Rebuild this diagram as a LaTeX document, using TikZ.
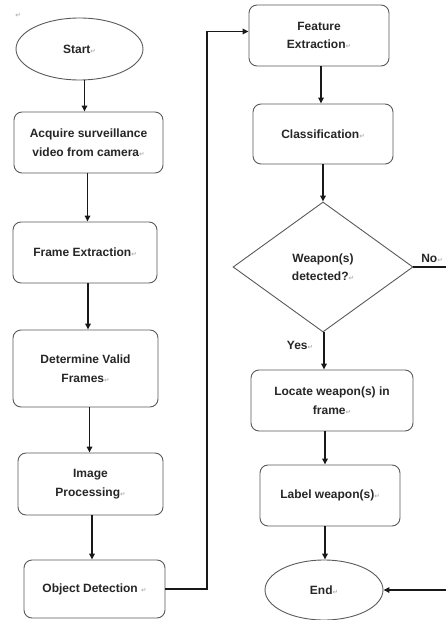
\documentclass[tikz,border=0pt]{standalone}
\usepackage{fontspec}
\setmainfont{Liberation Sans}
\newfontfamily\dejavu{DejaVu Sans}
\usetikzlibrary{shapes.geometric,arrows.meta}
% faint paragraph mark that follows each label
\newcommand\parmark{{\dejavu\fontsize{6.5}{6.5}\selectfont\color{black!30}\char"21B5}}
\tikzset{
  every node/.style={font=\bfseries\fontsize{12}{18.5}\selectfont, text=black!85, align=center},
  procbox/.style={draw=black!65, line width=0.9pt, rounded corners=8pt, inner sep=0pt},
  termbox/.style={draw=black!65, line width=0.9pt, ellipse, inner sep=0pt},
  decbox/.style={draw=black!65, line width=0.9pt, diamond, inner sep=0pt},
  arr/.style={line width=1.5pt, draw=black!90, -{Triangle[length=6pt,width=5.5pt]}},
  link/.style={line width=1.5pt, draw=black!90},
}
\begin{document}
\begin{tikzpicture}[x=1pt,y=-1pt]
\useasboundingbox (0,0) rectangle (446,620);

% left column
\node at (18,15) {\parmark};
\node[termbox, minimum width=127, minimum height=62] (start) at (79.5,49) {Start\parmark};
\node[procbox, minimum width=149, minimum height=61] (acquire) at (88.5,142.5)
  {Acquire surveillance\\video from camera\parmark};
\node[procbox, minimum width=144, minimum height=61] (frame) at (85,252.5) {Frame Extraction\parmark};
\node[procbox, minimum width=145, minimum height=77] (valid) at (85.5,368.5)
  {Determine Valid\\Frames\parmark};
\node[procbox, minimum width=145, minimum height=62] (image) at (90.5,484)
  {Image\\Processing\parmark};
\node[procbox, minimum width=141, minimum height=58] (object) at (94.5,589)
  {Object Detection\ \parmark};

% right column
\node[procbox, minimum width=140, minimum height=61] (feature) at (319,35.5)
  {Feature\\Extraction\parmark};
\node[procbox, minimum width=140, minimum height=60] (class) at (323,134) {Classification\parmark};
\node[decbox, minimum width=180, minimum height=130] (dec) at (323,267)
  {Weapon(s)\\detected?\parmark};
\node[procbox, minimum width=162, minimum height=61] (locate) at (332,400.5)
  {Locate weapon(s) in\\frame\parmark};
\node[procbox, minimum width=140, minimum height=61] (label) at (330,495.5) {Label weapon(s)\parmark};
\node[termbox, minimum width=118, minimum height=60] (end) at (324,590) {End\parmark};

% connectors, left column
\draw[arr] ([xshift=5]start.south) -- ([xshift=5]start.south |- acquire.north);
\draw[arr] ([xshift=-1]acquire.south) -- ([xshift=-1]acquire.south |- frame.north);
\draw[arr] ([xshift=3]frame.south) -- ([xshift=3]frame.south |- valid.north);
\draw[arr] ([xshift=4]valid.south) -- ([xshift=4]valid.south |- image.north);
\draw[arr] ([xshift=1.5]image.south) -- ([xshift=1.5]image.south |- object.north);

% bridge to the right column
\coordinate (bend) at (207,590);
\draw[arr] (object.east) -- (object.east -| bend) |- ([yshift=4]feature.west);

% connectors, right column
\draw[arr] ([xshift=2]feature.south) -- ([xshift=2]feature.south |- class.north);
\draw[arr] (class.south) -- (dec.north);
\draw[arr] ([xshift=1]dec.south) -- ([xshift=1]dec.south |- locate.north);
\node at (300,345) (yes) {Yes\parmark};
\draw[arr] ([xshift=-7]locate.south) -- ([xshift=-7]locate.south |- label.north);
\draw[arr] ([xshift=-5]label.south) -- ([xshift=-5]label.south |- end.north);

% "No" branch leaves the picture and returns into End
\coordinate (noout) at (446,267);
\draw[link] (dec.east) -- (noout);
\node at (432,258) (no) {No\parmark};
\coordinate (endin) at (446,590);
\draw[arr] (endin) -- (end.east);
\end{tikzpicture}
\end{document}
